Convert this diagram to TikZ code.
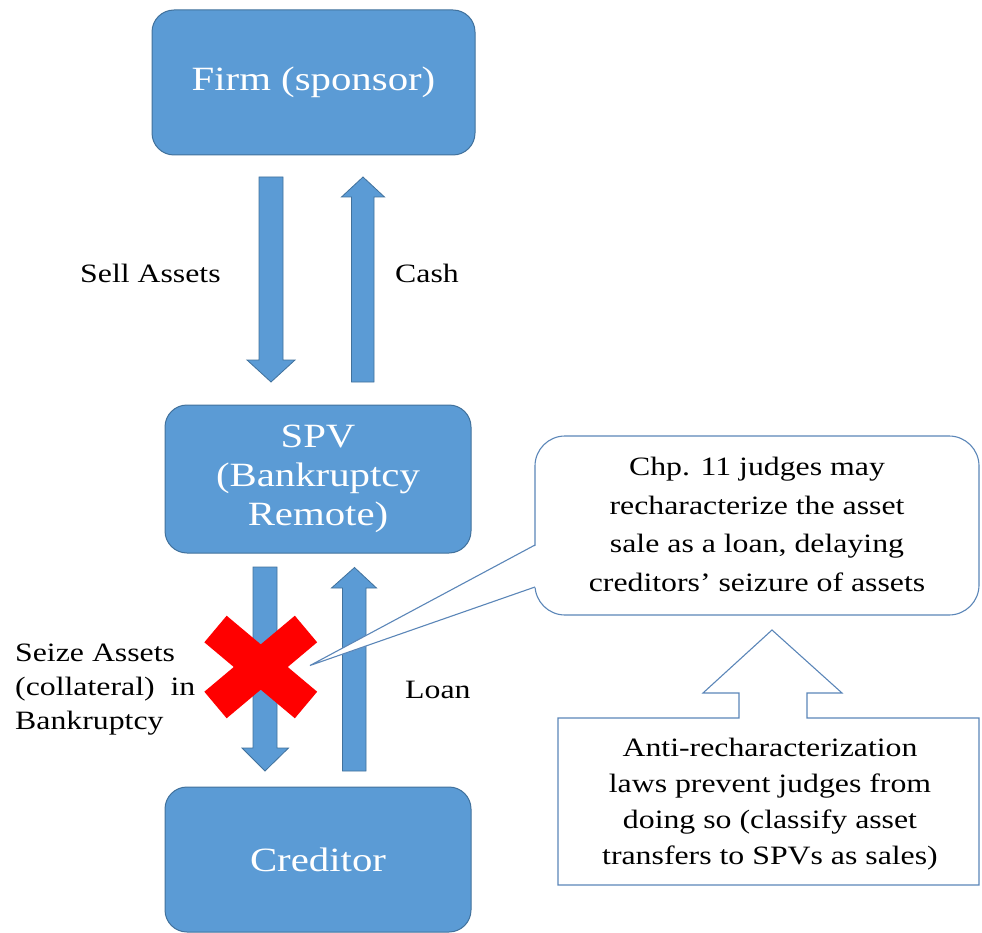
\documentclass[tikz,border=0pt]{standalone}
\usepackage{fontspec}
\setmainfont{Liberation Serif}[FakeStretch=1.2]
\definecolor{boxblue}{HTML}{5B9BD5}
\definecolor{boxedge}{HTML}{41719C}
\definecolor{lineblue}{HTML}{5B86B8}
\begin{document}
\begin{tikzpicture}[x=1pt,y=-1pt,
  bluebox/.style={draw=boxedge, fill=boxblue, rounded corners=22pt, line width=1pt,
    text=white, align=center, font=\fontsize{34}{39}\selectfont, inner sep=0pt},
  flow/.style={fill=boxblue, draw=boxedge, line width=0.8pt},
  lbl/.style={font=\fontsize{26.5}{34}\selectfont, align=left, inner sep=0pt},
  note/.style={font=\fontsize{26.5}{38.5}\selectfont, align=center, inner sep=0pt},
  outline/.style={draw=lineblue, line width=1.1pt}]
\useasboundingbox (0,0) rectangle (982,933);

% main boxes
\node[bluebox, minimum width=323pt, minimum height=145pt] (firm) at (313.5,82.5) {Firm (sponsor)};
\node[bluebox, minimum width=306pt, minimum height=148pt] (spv) at (318,479) {SPV\\(Bankruptcy\\Remote)};
\node[bluebox, minimum width=306pt, minimum height=145pt] (cred) at (318,859.5) {Creditor};

% block arrows
\draw[flow] (259,177) -- (259,360) -- (247,360) -- (271,382) -- (295,360) -- (283,360) -- (283,177) -- cycle;
\draw[flow] (351.5,382) -- (351.5,197) -- (341.5,197) -- (363,177) -- (384.5,197) -- (374,197) -- (374,382) -- cycle;
\draw[flow] (253,567) -- (253,748) -- (242,748) -- (265,771) -- (288.5,748) -- (277,748) -- (277,567) -- cycle;
\draw[flow] (342.5,771) -- (342.5,588) -- (331.5,588) -- (354.5,567.5) -- (376.5,588) -- (366,588) -- (366,771) -- cycle;

% labels
\node[lbl, anchor=west] (sell) at (80,273) {Sell Assets};
\node[lbl, anchor=west] (cash) at (395,273) {Cash};
\node[lbl, anchor=west] (seize) at (15,690) {Seize Assets\\(collateral)\ \ in\\Bankruptcy};
\node[lbl, anchor=west] (loan) at (405,690) {Loan};

% red cross
\draw[red, line width=34.7pt] (215.5,629) -- (306,705) (306,629) -- (215.5,705);

% callout
\node[draw=lineblue, line width=1.1pt, fill=white, rounded corners=30pt,
  minimum width=444pt, minimum height=179pt] (callout) at (757,525.5) {};
\coordinate (tip) at (310,665.5);
\fill[white] (537,545) -- (tip) -- (537,587) -- cycle;
\draw[outline] (535,545) -- (tip) -- (535,587);
\node[note] (ctext) at (757,524.5) {Chp. 11 judges may\\recharacterize the asset\\sale as a loan, delaying\\creditors’ seizure of assets};

% law box with up arrow
\draw[outline] (558,718) -- (739,718) -- (739,693) -- (703,693) -- (772,630) -- (842,693)
  -- (807,693) -- (807,718) -- (979,718) -- (979,885) -- (558,885) -- cycle;
\node[note, font=\fontsize{26.5}{36}\selectfont] (law) at (770,804) {Anti-recharacterization\\laws prevent judges from\\doing so (classify asset\\transfers to SPVs as sales)};
\end{tikzpicture}
\end{document}
